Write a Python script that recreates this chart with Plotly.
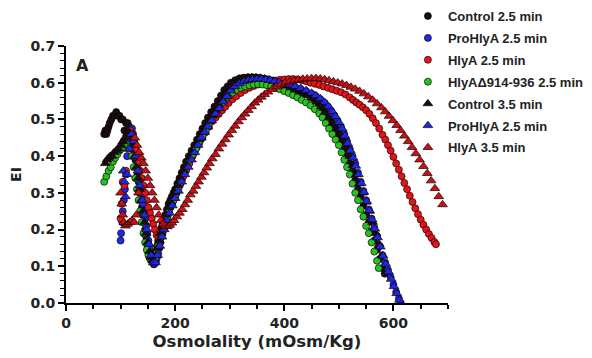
import plotly.graph_objects as go

# ---------------- data (osmolality mOsm/Kg, EI) ----------------
control_25 = [(70,.46),(72,.47),(74,.46),(76,.47),(78,.48),(80,.49),(83,.50),(86,.51),(89,.51),(92,.52),(95,.51),(98,.51),(101,.50),(104,.50),(107,.47),(110,.49),(113,.49),(116,.48),
(119,.47),(121,.45),(123,.43),(125,.41),(127,.39),(129,.37),(131,.35),(133,.33),(135,.30),(137,.28),(139,.26),(141,.24),(143,.22),(145,.20),(147,.18),(149,.16),(151,.14),(153,.13),(155,.12),(157,.115),(159,.11),
(161,.115),(163,.125),(165,.14),(167,.155),(169,.17),(171,.18),(173,.195),(175,.205),(177,.215),(179,.225),(182,.24),(185,.255),(188,.27),(191,.28),(194,.29),(197,.30),(200,.31),(204,.325),(208,.34),(212,.355),(216,.37),(220,.385),(225,.40),(230,.415),(235,.43),(240,.445),(245,.46),(250,.475),(255,.49),(260,.505),(266,.52),(272,.535),(278,.55),(284,.565),(290,.58),(296,.59),(302,.60),(310,.607),(318,.612),(326,.614),(334,.615),(342,.615),(350,.614),(358,.612),(366,.61),(374,.607),(382,.603),(390,.60),(398,.595),(406,.59),(414,.585),(422,.58),(430,.575),(438,.57),(446,.565),(454,.555),(462,.545),(470,.53),(476,.515),(482,.50),(488,.485),(494,.47),(500,.455),(505,.44),(510,.42),(515,.40),(520,.38),(525,.36),(530,.335),(535,.31),(540,.29),(545,.265),(550,.24),(555,.22),(560,.195),(565,.17),(570,.145),(575,.12),(580,.095),(584,.08)]

prohlya_25 = [(100,.17),(101,.19),(103,.22),(104,.25),(106,.28),(108,.31),(110,.35),(112,.40),(115,.44),(118,.47),(121,.475),
(123,.46),(125,.44),(127,.42),(129,.40),(131,.38),(133,.36),(135,.33),(137,.31),(139,.29),(141,.27),(143,.25),(145,.23),(147,.21),(149,.19),(151,.17),(153,.15),(155,.135),(157,.12),(159,.11),(161,.105),
(163,.108),(165,.115),(167,.125),(169,.135),(171,.15),(173,.165),(175,.18),(177,.19),(179,.20),(182,.215),(185,.23),(188,.245),(191,.26),(194,.27),(197,.28),(200,.29),(204,.305),(208,.32),(212,.335),(216,.35),(220,.365),(225,.38),(230,.395),(235,.41),(240,.425),(245,.44),(250,.455),(255,.47),(260,.485),(266,.50),(272,.515),(278,.53),(284,.545),(290,.56),(296,.572),(302,.583),(310,.593),(318,.60),(326,.605),(334,.608),(342,.61),(350,.61),(358,.61),(366,.608),(374,.606),(382,.604),(390,.60),(400,.597),(410,.593),(420,.588),(430,.583),(440,.577),(450,.57),(458,.563),(466,.555),(474,.545),(480,.535),(486,.523),(492,.51),(498,.495),(504,.48),(510,.46),(515,.44),(520,.42),(525,.40),(530,.38),(535,.355),(540,.33),(545,.305),(550,.28),(555,.255),(560,.23),(565,.205),(570,.18),(575,.155),(580,.13),(585,.11),(590,.09),(595,.07),(600,.05),(605,.03),(610,.012),(613,.0)]

hlya_25 = [(100,.23),(102,.27),(104,.33),(107,.32),(110,.36),(114,.42),(118,.47),(121,.46),(124,.44),(127,.42),(130,.40),(133,.38),(136,.36),(139,.34),(142,.32),(145,.30),(148,.28),(151,.26),(154,.245),(157,.23),(160,.215),(163,.20),(166,.185),(169,.18),(172,.185),(175,.195),(178,.21),(181,.225),(185,.24),(190,.26),(195,.275),(200,.29),(205,.31),(210,.325),(215,.345),(220,.36),(226,.38),(232,.40),(238,.42),(244,.435),(250,.45),(256,.465),(262,.48),(268,.495),(274,.505),(280,.515),(286,.525),(292,.535),(298,.545),(305,.555),(312,.563),(320,.572),(328,.58),(336,.586),(344,.591),(352,.595),(360,.598),(368,.601),(376,.604),(384,.606),(392,.608),(400,.609),(408,.61),(416,.61),(424,.609),(432,.607),(440,.604),(448,.60),(456,.597),(464,.594),(472,.59),(480,.586),(488,.582),(496,.578),(504,.574),(512,.568),(520,.56),(526,.553),(532,.546),(538,.54),(544,.533),(550,.525),(556,.515),(562,.503),(568,.49),(574,.475),(580,.458),(585,.445),(590,.43),(595,.415),(600,.398),(605,.38),(610,.363),(615,.345),(620,.327),(625,.31),(630,.292),(635,.275),(640,.258),(645,.242),(650,.227),(655,.213),(660,.20),(665,.188),(670,.177),(675,.166),(678,.16)]

hlya_d914_25 = [(70,.33),(74,.345),(78,.36),(82,.37),(86,.385),(90,.395),(94,.405),(98,.415),(102,.42),(106,.425),(110,.43),(114,.43),(118,.425),
(121,.40),(124,.37),(127,.34),(130,.31),(133,.28),(136,.25),(139,.22),(142,.19),(145,.165),(148,.145),(151,.13),(154,.12),(157,.115),(160,.115),
(163,.12),(166,.135),(169,.155),(172,.17),(175,.185),(178,.20),(181,.215),(185,.23),(189,.25),(193,.265),(197,.28),(201,.295),(206,.31),(211,.33),(216,.36),(221,.375),(226,.39),(232,.405),(238,.42),(244,.44),(250,.455),(256,.47),(262,.49),(268,.505),(274,.52),(280,.535),(286,.545),(292,.555),(298,.565),(305,.573),(312,.58),(320,.586),(328,.59),(336,.593),(344,.595),(352,.596),(360,.595),(368,.593),(376,.59),(384,.586),(392,.582),(400,.577),(408,.572),(416,.566),(424,.56),(432,.553),(440,.546),(448,.538),(456,.528),(464,.516),(470,.505),(476,.49),(482,.475),(488,.46),(494,.445),(500,.43),(505,.41),(510,.39),(515,.37),(520,.35),(525,.325),(530,.30),(535,.28),(540,.255),(545,.235),(550,.21),(555,.19),(560,.165),(565,.14),(570,.115),(573,.095)]

control_35 = [(72,.38),(75,.39),(78,.395),(81,.40),(84,.40),(88,.41),(92,.415),(96,.42),(100,.43),(104,.44),(108,.45),(112,.46),(116,.465),(120,.46),(123,.43),(126,.40),(129,.37),(132,.34),(135,.31),(138,.28),(141,.25),(144,.22),(147,.19),(150,.165),(153,.14),(156,.125),(159,.115),(162,.115),(165,.13),(168,.15),(171,.17),(174,.19),(177,.205),(180,.22),(184,.24),(188,.26),(192,.275),(196,.29),(200,.30),(205,.32),(210,.34),(215,.36),(220,.375),(226,.395),(232,.41),(238,.43),(244,.445),(250,.465),(256,.48),(262,.495),(268,.51),(274,.525),(280,.54),(287,.555),(294,.57),(301,.585),(308,.597),(316,.605),(324,.61),(332,.613),(340,.614),(348,.614),(356,.613),(364,.611),(372,.608),(380,.605),(388,.60),(396,.596),(404,.592),(412,.587),(420,.582),(428,.577),(436,.572),(444,.566),(452,.558),(460,.548),(468,.535),(475,.52),(482,.505),(489,.49),(496,.475),(502,.46),(508,.445),(514,.425),(520,.40),(526,.375),(532,.35),(538,.325),(544,.30),(550,.275),(556,.25),(562,.22),(568,.19),(574,.16),(580,.13)]

prohlya_25b = [(105,.36),(107,.33),(109,.29),(112,.35),(116,.42),(120,.46),(124,.44),(128,.40),(132,.36),(136,.32),(140,.28),(144,.24),(148,.20),(152,.16),(156,.13),(160,.11),(164,.11),(168,.13),(172,.155),(176,.18),(180,.20),(185,.225),(190,.245),(195,.265),(200,.285),(206,.305),(212,.33),(218,.35),(224,.37),(230,.39),(236,.41),(242,.43),(248,.45),(254,.465),(260,.48),(267,.497),(274,.515),(281,.53),(288,.548),(295,.563),(302,.578),(310,.59),(318,.598),(326,.604),(334,.607),(342,.609),(350,.61),(358,.61),(366,.609),(374,.607),(382,.604),(390,.601),(400,.598),(410,.594),(420,.59),(430,.585),(440,.579),(450,.572),(458,.565),(466,.557),(474,.547),(481,.536),(488,.522),(494,.508),(500,.492),(506,.475),(511,.455),(516,.435),(521,.415),(526,.395),(531,.373),(536,.35),(541,.326),(546,.302),(551,.277),(556,.252),(561,.227),(566,.202),(571,.178),(576,.153),(581,.128),(586,.106),(591,.085),(596,.065),(601,.045),(606,.026),(611,.008)]

hlya_35 = [(100,.30),(102,.27),(104,.24),(106,.22),(109,.21),(113,.215),(117,.22),(121,.225),(125,.22),(129,.24),(133,.30),
(126,.45),(130,.43),(134,.41),(138,.395),(142,.38),(146,.36),(150,.34),(154,.32),(158,.30),(162,.28),(166,.26),(170,.24),(174,.225),(178,.215),(182,.21),(186,.208),(190,.212),(194,.218),(198,.225),(203,.235),(208,.245),(213,.255),(218,.268),(223,.28),(228,.295),(233,.305),(238,.318),(243,.33),(248,.343),(253,.355),(258,.368),(263,.38),(268,.393),(274,.405),(280,.42),(286,.433),(292,.445),(298,.458),(304,.47),(310,.482),(316,.494),(322,.505),(328,.515),(334,.525),(340,.535),(346,.545),(352,.553),(358,.561),(364,.568),(370,.575),(378,.582),(386,.589),(394,.595),(402,.6),(410,.603),(418,.606),(426,.608),(434,.61),(442,.611),(450,.612),(458,.612),(466,.611),(474,.609),(482,.606),(490,.603),(498,.6),(506,.597),(514,.593),(522,.588),(530,.583),(538,.577),(546,.57),(554,.562),(562,.553),(570,.543),(578,.532),(585,.521),(592,.509),(599,.497),(606,.484),(613,.47),(620,.455),(627,.44),(634,.424),(641,.407),(648,.39),(655,.372),(662,.353),(669,.333),(676,.312),(683,.29),(690,.268)]

series_names = ["Control 2.5 min", "ProHlyA 2.5 min", "HlyA 2.5 min", "HlyA\u0394914-936 2.5 min",
                "Control 3.5 min", "ProHlyA 2.5 min", "HlyA 3.5 min"]
series_data = [control_25, prohlya_25, hlya_25, hlya_d914_25, control_35, prohlya_25b, hlya_35]
series_colors = ["#111111", "#1a2ae8", "#e3141a", "#22c422", "#111111", "#1a2ae8", "#c41216"]
series_symbols = ["circle", "circle", "circle", "circle", "triangle-up", "triangle-up", "triangle-up"]

x_ticks = [0, 200, 400, 600]
y_ticks = [0.0, 0.1, 0.2, 0.3, 0.4, 0.5, 0.6, 0.7]

# ---------------- figure ----------------
fig = go.Figure()
for i, (name, data, col, sym) in enumerate(zip(series_names, series_data, series_colors, series_symbols)):
    xs = [p[0] for p in data]
    ys = [p[1] for p in data]
    fig.add_trace(go.Scatter(
        x=xs, y=ys, mode="markers", name=name, legendgroup=f"g{i}",
        marker=dict(symbol=sym, size=7 if sym == "circle" else 8.5, color=col,
                    line=dict(color="#1a0000", width=0.7)),
    ))

axis_font = dict(family="DejaVu Sans", size=14, color="#222222", weight="bold")
fig.update_layout(
    width=584, height=350,
    margin=dict(l=58, r=144, t=38, b=55, autoexpand=False),
    paper_bgcolor="white", plot_bgcolor="white",
    showlegend=True,
    legend=dict(x=0.895, y=1.175, xanchor="left", yanchor="top",
                font=dict(family="Liberation Sans", size=13, color="#222222", weight="bold"),
                tracegroupgap=2, bgcolor="rgba(0,0,0,0)", itemwidth=30),
    xaxis=dict(range=[0, 700], tickvals=x_ticks, ticks="outside", ticklen=6, tickwidth=1.5,
               tickcolor="black", showline=True, linecolor="black", linewidth=2, automargin=False,
               showgrid=False, zeroline=False, tickfont=axis_font,
               minor=dict(dtick=50, tick0=0, ticks="outside", ticklen=4, tickwidth=1.5, tickcolor="black"),
               title=dict(text="Osmolality (mOsm/Kg)", standoff=6,
                          font=dict(family="DejaVu Sans", size=16.5, color="#222222", weight="bold"))),
    yaxis=dict(range=[0, 0.7], tickvals=y_ticks, tickformat=".1f", ticks="outside", ticklen=6, tickwidth=1.5,
               tickcolor="black", showline=True, linecolor="black", linewidth=2, automargin=False,
               showgrid=False, zeroline=False, tickfont=axis_font,
               minor=dict(dtick=0.02, tick0=0, ticks="outside", ticklen=4, tickwidth=1.2, tickcolor="black"),
               title=dict(text="EI", standoff=8,
                          font=dict(family="DejaVu Sans", size=14, color="#222222", weight="bold"))),
    annotations=[dict(text="A", xref="paper", yref="paper", x=0.022, y=0.97, xanchor="left", yanchor="top",
                      showarrow=False, font=dict(family="DejaVu Sans", size=16, color="#222222", weight="bold"))],
)

fig.write_html("out.html")
